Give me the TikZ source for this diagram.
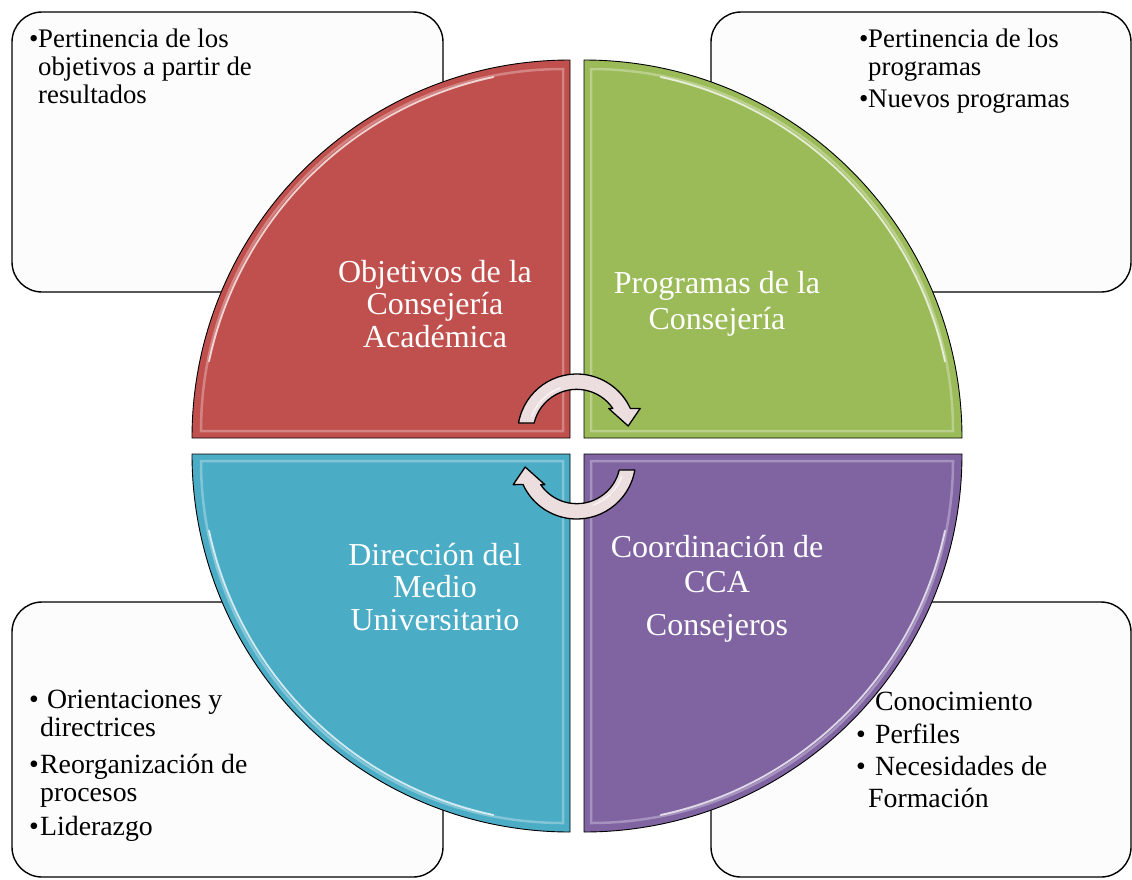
\documentclass[tikz,border=0pt]{standalone}
\usepackage{fontspec}
\setmainfont{Liberation Serif}
\definecolor{secred}{RGB}{192,80,77}
\definecolor{secgreen}{RGB}{155,187,89}
\definecolor{secblue}{RGB}{75,172,198}
\definecolor{secpurple}{RGB}{128,100,162}
\definecolor{boxfill}{RGB}{252,252,252}
\definecolor{arrowfill}{RGB}{236,222,222}
\newcommand\bulA{\makebox[9pt][l]{\textbullet}}
\newcommand\bulB{\makebox[11pt][l]{\textbullet}}
\newcommand\bulC{\makebox[12pt][l]{\textbullet}}
\newcommand\ltab[1]{\begin{tabular}[t]{@{}l@{}}#1\end{tabular}}
\newcommand\ctab[1]{\begin{tabular}[t]{@{}c@{}}#1\end{tabular}}
\begin{document}
\begin{tikzpicture}[x=1pt,y=1pt,
  cbox/.style={draw=black, line width=1.4pt, rounded corners=30pt, fill=boxfill, inner sep=0pt},
  sector/.style={draw=black, line width=0.9pt},
  gloss/.style={draw=white, line width=2.5pt, opacity=0.3},
  shine/.style={draw=white, line width=1.8pt, opacity=0.75, line cap=round},
  sectortext/.style={text=white, font=\fontsize{32}{32.5}\selectfont, inner sep=0pt, anchor=base},
  boxtextA/.style={text=black, font=\fontsize{26.8}{28}\selectfont, inner sep=0pt, anchor=base west},
  boxtextB/.style={text=black, font=\fontsize{27.8}{28}\selectfont, inner sep=0pt, anchor=base west},
  boxtextC/.style={text=black, font=\fontsize{27.8}{32}\selectfont, inner sep=0pt, anchor=base west},
  cyclearrow/.style={fill=arrowfill, draw=black, line width=1.3pt, line join=round}
]
\useasboundingbox (0,0) rectangle (1132,-879);
\fill[white] (0,0) rectangle (1132,-879);

% corner boxes
\node[cbox, minimum width=431pt, minimum height=280pt] (tlbox) at (227.5,-152) {};
\node[cbox, minimum width=420pt, minimum height=280pt] (trbox) at (921,-152) {};
\node[cbox, minimum width=431pt, minimum height=275pt] (blbox) at (227.5,-739.5) {};
\node[cbox, minimum width=420pt, minimum height=275pt] (brbox) at (921,-739.5) {};

% box texts
\node[boxtextA] (tl1) at (29,-47) {\ltab{\bulA Pertinencia de los\\\hspace*{9pt}objetivos a partir de\\\hspace*{9pt}resultados}};
\node[boxtextA] (tr1) at (859,-47) {\ltab{\bulA Pertinencia de los\\\hspace*{9pt}programas}};
\node[boxtextA] (tr2) at (859,-107) {\bulA Nuevos programas};
\node[boxtextB] (bl1) at (29,-708) {\ltab{\bulB\ Orientaciones y\\\hspace*{11pt}directrices}};
\node[boxtextB] (bl2) at (29,-773) {\ltab{\bulB Reorganización de\\\hspace*{11pt}procesos}};
\node[boxtextB] (bl3) at (29,-835) {\bulB Liderazgo};
\node[boxtextC] (br1) at (856,-710) {\bulC\ Conocimiento};
\node[boxtextC] (br2) at (856,-743) {\bulC\ Perfiles};
\node[boxtextC] (br3) at (856,-775) {\ltab{\bulC\ Necesidades de\\\hspace*{12pt}Formación}};

% sectors
\foreach \cx/\cy/\a/\col in {570/-438/90/secred, 584/-438/0/secgreen, 570/-454/180/secblue, 584/-454/270/secpurple} {
  \filldraw[sector, fill=\col] (\cx,\cy) -- ++(\a:378) arc[start angle=\a, end angle=\a+90, radius=378] -- cycle;
  \draw[gloss, shift={(\a+45:9.9)}] (\cx,\cy) -- ++(\a:362) arc[start angle=\a, end angle=\a+90, radius=362] -- cycle;
  \draw[shine] (\cx,\cy) ++(\a+12:369) arc[start angle=\a+12, end angle=\a+78, radius=369];
}

% sector labels
\node[sectortext] (obj) at (435,-282) {\ctab{Objetivos de la\\Consejería\\Académica}};
\node[sectortext] (prog) at (717,-293) {\ctab{Programas de la\\[3.5pt]Consejería}};
\node[sectortext] (dir) at (435,-565) {\ctab{Dirección del\\Medio\\Universitario}};
\node[sectortext] (coord) at (717,-557) {\ctab{Coordinación de\\[2.5pt]CCA\\[10.5pt]Consejeros}};

% circular arrows
\begin{scope}[shift={(576.7,-433)}]
  \draw[cyclearrow] (170.2:59) arc[start angle=170.2, end angle=24.6, radius=59]
    -- (63.5,24.6) -- (51.5,7) -- (31.9,24.6) -- (36.1,24.6)
    arc[start angle=34.3, end angle=166.8, radius=43.7] -- cycle;
  \draw[shine, line width=1.2pt] (160:48) arc[start angle=160, end angle=110, radius=48];
\end{scope}
\begin{scope}[shift={(576.7,-460)}, rotate=180]
  \draw[cyclearrow] (170.2:59) arc[start angle=170.2, end angle=24.6, radius=59]
    -- (63.5,24.6) -- (51.5,7) -- (31.9,24.6) -- (36.1,24.6)
    arc[start angle=34.3, end angle=166.8, radius=43.7] -- cycle;
  \draw[shine, line width=1.2pt] (160:48) arc[start angle=160, end angle=110, radius=48];
\end{scope}
\end{tikzpicture}
\end{document}
